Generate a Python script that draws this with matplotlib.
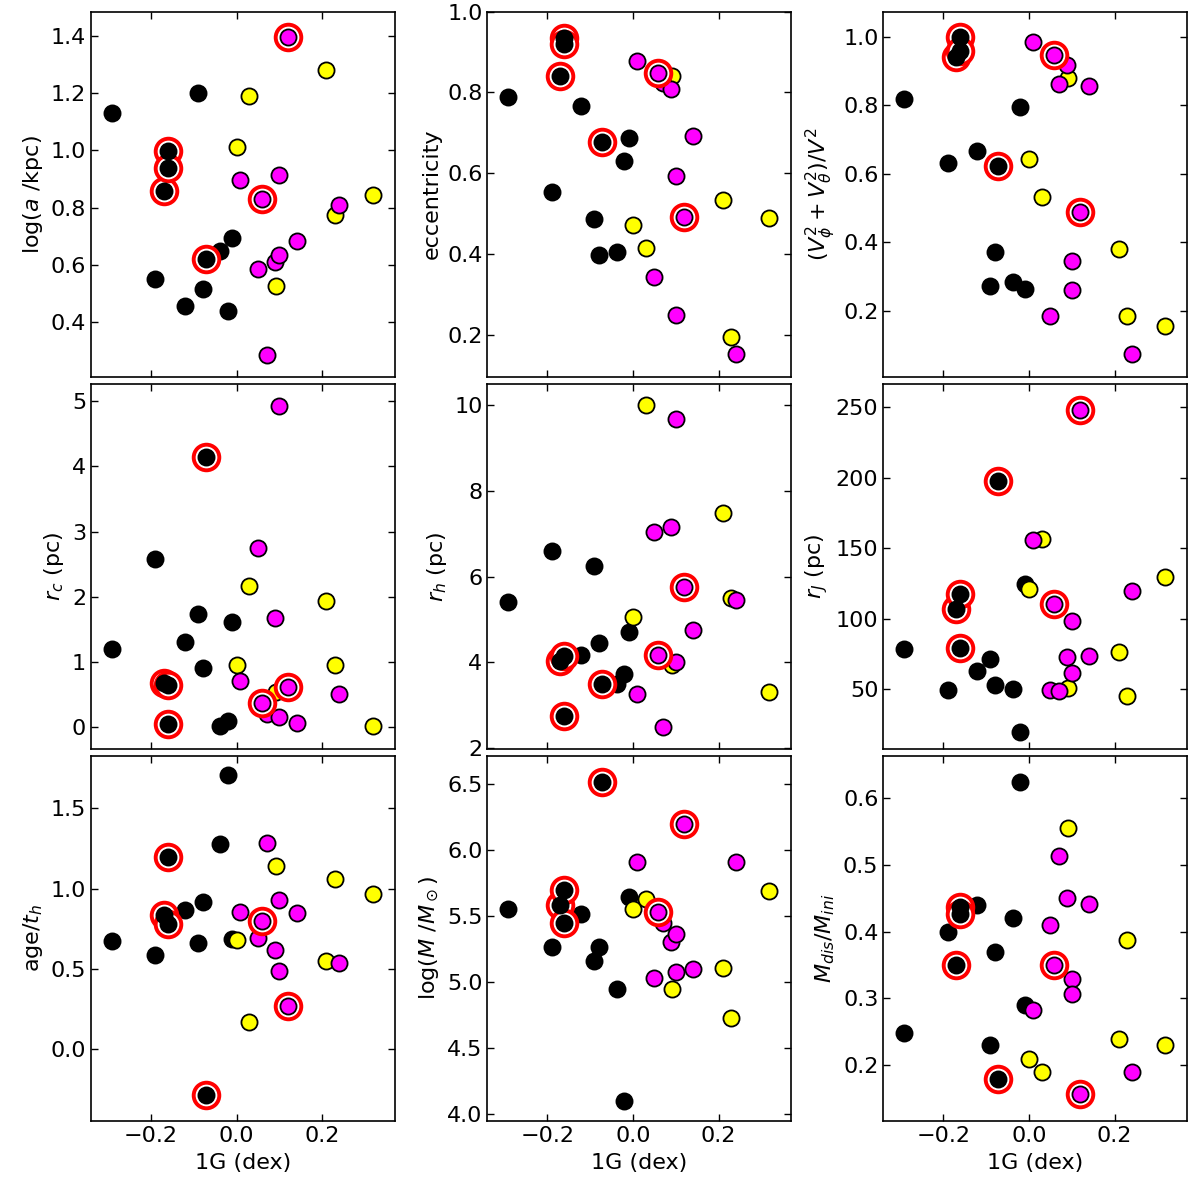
import numpy as np
import matplotlib
matplotlib.use("Agg")
import matplotlib.pyplot as plt

# ---- data ----
# cluster 1G values (dex)
x_black = [-0.291, -0.190, -0.170, -0.161, -0.161, -0.121, -0.091, -0.079, -0.071, -0.038, -0.020, -0.010]
x_yellow = [0.000, 0.030, 0.091, 0.210, 0.229, 0.319]
x_magenta = [0.009, 0.050, 0.059, 0.070, 0.089, 0.100, 0.100, 0.120, 0.140, 0.240]
# which clusters are circled in red
red_black = [False, False, True, True, True, False, False, False, True, False, False, False]
red_yellow = [False] * 6
red_magenta = [False, False, True, False, False, False, False, True, False, False]

loga_black = [1.131, 0.552, 0.858, 0.999, 0.940, 0.457, 1.200, 0.515, 0.622, 0.648, 0.438, 0.694]
loga_yellow = [1.013, 1.191, 0.527, 1.280, 0.774, 0.845]
loga_magenta = [0.897, 0.585, 0.831, 0.287, 0.612, 0.915, 0.635, 1.394, 0.685, 0.810]

ecc_black = [0.788, 0.553, 0.841, 0.935, 0.920, 0.767, 0.486, 0.397, 0.678, 0.406, 0.631, 0.688]
ecc_yellow = [0.472, 0.415, 0.840, 0.534, 0.194, 0.488]
ecc_magenta = [0.878, 0.343, 0.848, 0.823, 0.808, 0.592, 0.249, 0.492, 0.692, 0.152]

vfrac_black = [0.818, 0.631, 0.940, 1.000, 0.958, 0.667, 0.273, 0.371, 0.622, 0.284, 0.794, 0.264]
vfrac_yellow = [0.644, 0.533, 0.878, 0.379, 0.185, 0.156]
vfrac_magenta = [0.984, 0.185, 0.948, 0.861, 0.917, 0.346, 0.260, 0.488, 0.856, 0.072]

rc_black = [1.196, 2.58, 0.68, 0.65, 0.06, 1.314, 1.743, 0.905, 4.14, 0.026, 0.092, 1.616]
rc_yellow = [0.96, 2.17, 0.55, 1.93, 0.96, 0.02]
rc_magenta = [0.716, 2.75, 0.373, 0.20, 1.68, 4.92, 0.153, 0.624, 0.061, 0.51]

rh_black = [5.40, 6.60, 4.03, 4.15, 2.75, 4.17, 6.25, 4.46, 3.50, 3.50, 3.72, 4.71]
rh_yellow = [5.06, 10.0, 3.95, 7.49, 5.49, 3.32]
rh_magenta = [3.26, 7.03, 4.16, 2.49, 7.15, 9.67, 4.02, 5.75, 4.76, 5.45]

rj_black = [78.9, 49.8, 106.9, 117.8, 79.4, 62.6, 71.8, 52.8, 197.6, 50.0, 19.4, 124.6]
rj_yellow = [120.9, 156.9, 50.9, 76.5, 45.5, 129.6]
rj_magenta = [156.2, 49.3, 110.2, 49.1, 72.7, 98.6, 61.8, 248.3, 73.7, 119.4]

age_black = [0.676, 0.587, 0.838, 1.197, 0.78, 0.865, 0.658, 0.915, -0.284, 1.276, 1.707, 0.689]
age_yellow = [0.678, 0.166, 1.139, 0.546, 1.060, 0.967]
age_magenta = [0.855, 0.695, 0.799, 1.286, 0.618, 0.929, 0.488, 0.268, 0.849, 0.537]

logm_black = [5.558, 5.265, 5.583, 5.70, 5.45, 5.518, 5.157, 5.27, 6.518, 4.947, 4.096, 5.649]
logm_yellow = [5.556, 5.634, 4.947, 5.106, 4.725, 5.689]
logm_magenta = [5.909, 5.028, 5.53, 5.452, 5.306, 5.364, 5.081, 6.202, 5.101, 5.909]

mdis_black = [0.2475, 0.40, 0.35, 0.437, 0.427, 0.4405, 0.229, 0.37, 0.178, 0.421, 0.624, 0.29]
mdis_yellow = [0.209, 0.189, 0.5555, 0.238, 0.388, 0.229]
mdis_magenta = [0.2825, 0.4105, 0.35, 0.513, 0.45, 0.329, 0.3065, 0.1565, 0.441, 0.189]

ylabels = [r"log($a$ /kpc)", "eccentricity", r"$(V_\phi^2+V_\theta^2)/V^2$",
           r"$r_c$ (pc)", r"$r_h$ (pc)", r"$r_J$ (pc)",
           r"age/$t_h$", r"log($M$ /$M_\odot$)", r"$M_{dis}/M_{ini}$"]
xlabel = "1G (dex)"
xticks = [-0.2, 0.0, 0.2]

panels = [
    (loga_black, loga_yellow, loga_magenta, (0.21, 1.484), [0.4, 0.6, 0.8, 1.0, 1.2, 1.4]),
    (ecc_black, ecc_yellow, ecc_magenta, (0.096, 1.0), [0.2, 0.4, 0.6, 0.8, 1.0]),
    (vfrac_black, vfrac_yellow, vfrac_magenta, (0.007, 1.073), [0.2, 0.4, 0.6, 0.8, 1.0]),
    (rc_black, rc_yellow, rc_magenta, (-0.33, 5.26), [0, 1, 2, 3, 4, 5]),
    (rh_black, rh_yellow, rh_magenta, (1.98, 10.49), [2, 4, 6, 8, 10]),
    (rj_black, rj_yellow, rj_magenta, (7.6, 266.6), [50, 100, 150, 200, 250]),
    (age_black, age_yellow, age_magenta, (-0.446, 1.828), [0.0, 0.5, 1.0, 1.5]),
    (logm_black, logm_yellow, logm_magenta, (3.95, 6.717), [4.0, 4.5, 5.0, 5.5, 6.0, 6.5]),
    (mdis_black, mdis_yellow, mdis_magenta, (0.116, 0.664), [0.2, 0.3, 0.4, 0.5, 0.6]),
]

plt.rcParams['font.family'] = 'DejaVu Sans'
plt.rcParams['mathtext.fontset'] = 'dejavusans'

W, H = 1200, 1191
fig = plt.figure(figsize=(W / 100, H / 100), dpi=100)

col_left = [91, 487.3, 883.3]
row_top = [11.7, 384, 755.7]
pw, ph = 304, 365

MS = 135
groups = [
    ("black", "black"),
    ("yellow", "black"),
    ("magenta", "black"),
]

for i, (yb, yy, ym, ylim, yt) in enumerate(panels):
    r, c = divmod(i, 3)
    ax = fig.add_axes([col_left[c] / W, 1 - (row_top[r] + ph) / H, pw / W, ph / H])
    xs = [x_black, x_yellow, x_magenta]
    ys = [yb, yy, ym]
    reds = [red_black, red_yellow, red_magenta]
    for (fc, ec), xv, yv in zip(groups, xs, ys):
        ax.scatter(xv, yv, s=MS, c=fc, edgecolors=ec, linewidths=1.3, zorder=3)
    for (fc, ec), xv, yv, rv in zip(groups, xs, ys, reds):
        xr = [a for a, f in zip(xv, rv) if f]
        yr = [b for b, f in zip(yv, rv) if f]
        if xr:
            ax.scatter(xr, yr, s=340, facecolors="white", edgecolors="red", linewidths=2.8, zorder=4)
            ax.scatter(xr, yr, s=MS, c=fc, edgecolors=ec, linewidths=1.3, zorder=5)
    ax.set_xlim(-0.34, 0.37)
    ax.set_ylim(*ylim)
    ax.set_xticks(xticks)
    ax.set_yticks(yt)
    ax.tick_params(direction="in", top=True, right=True, length=5, width=1.0, labelsize=16)
    for sp in ax.spines.values():
        sp.set_linewidth(1.2)
    ax.set_ylabel(ylabels[i], fontsize=16, labelpad=4)
    if r == 2:
        ax.set_xlabel(xlabel, fontsize=16, labelpad=5)
        ax.set_xticklabels(["\u22120.2", "0.0", "0.2"])
    else:
        ax.set_xticklabels([])

fig.savefig("out.png", dpi=100)
